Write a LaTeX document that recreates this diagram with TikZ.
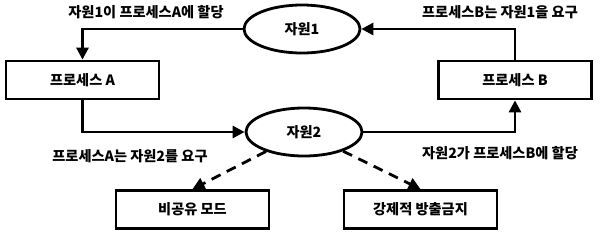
\documentclass[tikz,border=0pt]{standalone}
\usepackage{fontspec}
\setmainfont{Noto Sans CJK KR}
\usetikzlibrary{arrows.meta,shapes.geometric}
\newcommand\krfont{\fontsize{14.2}{16}\selectfont\bfseries}
\tikzset{
  box/.style ={draw,line width=2.8pt,minimum width=153pt,minimum height=38pt,
               inner sep=2pt,font=\krfont},
  res/.style ={ellipse,draw,line width=2.8pt,minimum width=116pt,
               minimum height=48pt,inner sep=1pt,font=\krfont},
  flow/.style={-{Triangle[length=12pt,width=12pt]},line width=2.8pt},
  weak/.style={-{Triangle[length=12pt,width=12pt]},line width=2.8pt,
               dash pattern=on 10pt off 7pt},
  lbl/.style ={inner sep=1pt,font=\krfont}
}
\begin{document}
\begin{tikzpicture}[x=1pt,y=-1pt]
  \useasboundingbox (0,0) rectangle (600,234);
  % resources
  \node[res] (res1) at (302,29) {자원1};
  \node[res] (res2) at (304,132) {자원2};
  % processes
  \node[box] (procA) at (82.5,80) {프로세스 A};
  \node[box] (procB) at (515,80) {프로세스 B};
  % conditions
  \node[box] (nonshare) at (192.5,209.5) {비공유 모드};
  \node[box] (nopreempt) at (420.5,209.5) {강제적 방출금지};

  \draw[flow] (res1.west) -| (procA.north);
  \draw[flow] (procB.north) |- (res1.east);
  \draw[flow] (procA.south) |- (res2.west);
  \draw[flow] (res2.east) -| (procB.south);
  \draw[weak] (res2) -- (nonshare.north);
  \draw[weak] (res2) -- (nopreempt.north);

  \node[lbl] (alloc1) at (146,12) {자원1이 프로세스A에 할당};
  \node[lbl] (req1) at (500,12) {프로세스B는 자원1을 요구};
  \node[lbl] (req2) at (130,156) {프로세스A는 자원2를 요구};
  \node[lbl] (alloc2) at (500,153) {자원2가 프로세스B에 할당};
\end{tikzpicture}
\end{document}
